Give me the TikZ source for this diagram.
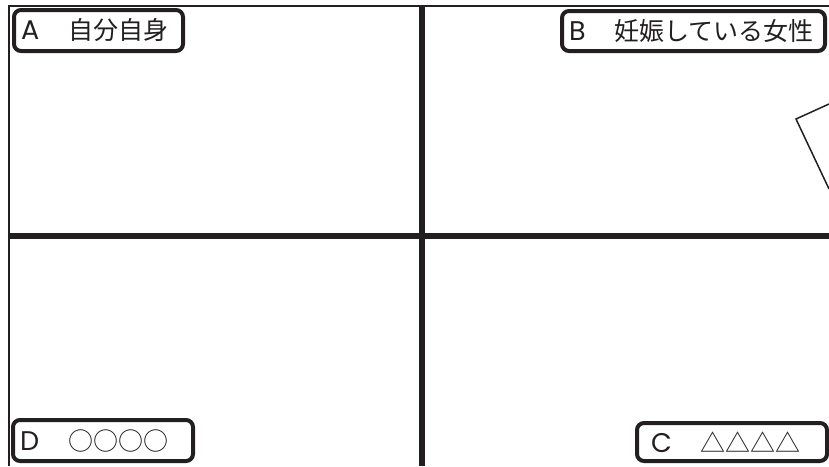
\documentclass[tikz,border=0pt]{standalone}
\usepackage{fontspec}
\setmainfont{Noto Sans CJK JP}
\newfontfamily\latinfont{Poppins}
\usepackage{xcolor}
\usepackage{tikz}
\definecolor{ink}{RGB}{35,31,32}
\newcommand\tagletter[1]{{\latinfont\fontsize{27}{28}\selectfont #1}\hspace{4pt}}
\tikzset{
  frame/.style={draw=ink, line width=2pt},
  divider/.style={draw=ink, line width=5.5pt},
  tagbox/.style={draw=ink, line width=4pt, rounded corners=7pt, fill=white,
    inner xsep=7pt, inner ysep=0pt, align=left, font=\fontsize{25}{28}\selectfont,
    text=ink},
  sketch/.style={draw=ink, line width=1.5pt, line join=miter}
}
\begin{document}
\begin{tikzpicture}[x=1pt, y=-1pt]
    \useasboundingbox (0,0) rectangle (829,466);
    % 外枠と十字の仕切り
    \coordinate (tl) at (9,5.5);
    \coordinate (tr) at (829,5.5);
    \coordinate (bl) at (9,466);
    \coordinate (mt) at (422,5.5);
    \coordinate (mb) at (422,466);
    \coordinate (ml) at (9,236);
    \coordinate (mr) at (829,236);
    \draw[frame] (tr) -- (tl) -- (bl);
    \draw[divider] (mt) -- (mb);
    \draw[divider] (ml) -- (mr);

    % 右上の図形（途中で切れている）
    \coordinate (p1) at (829,104);
    \coordinate (p2) at (796,119);
    \coordinate (p3) at (829,189);
    \draw[sketch] (p1) -- (p2) -- (p3);

    % 各区画のラベル
    \node[tagbox, text width=155pt, minimum height=41pt] (tagA) at (98.5,30.5) {\tagletter{A}　自分自身};
    \node[tagbox, text width=249pt, minimum height=40pt] (tagB) at (693.5,31) {\tagletter{B}　妊娠している女性};
    \node[tagbox, text width=166pt, minimum height=41pt] (tagD) at (103,440.5) {\tagletter{D}　○○○○};
    \node[tagbox, inner xsep=14pt, text width=162pt, minimum height=38pt] (tagC) at (732,442) {\tagletter{C}　△△△△};
  \end{tikzpicture}
\end{document}
